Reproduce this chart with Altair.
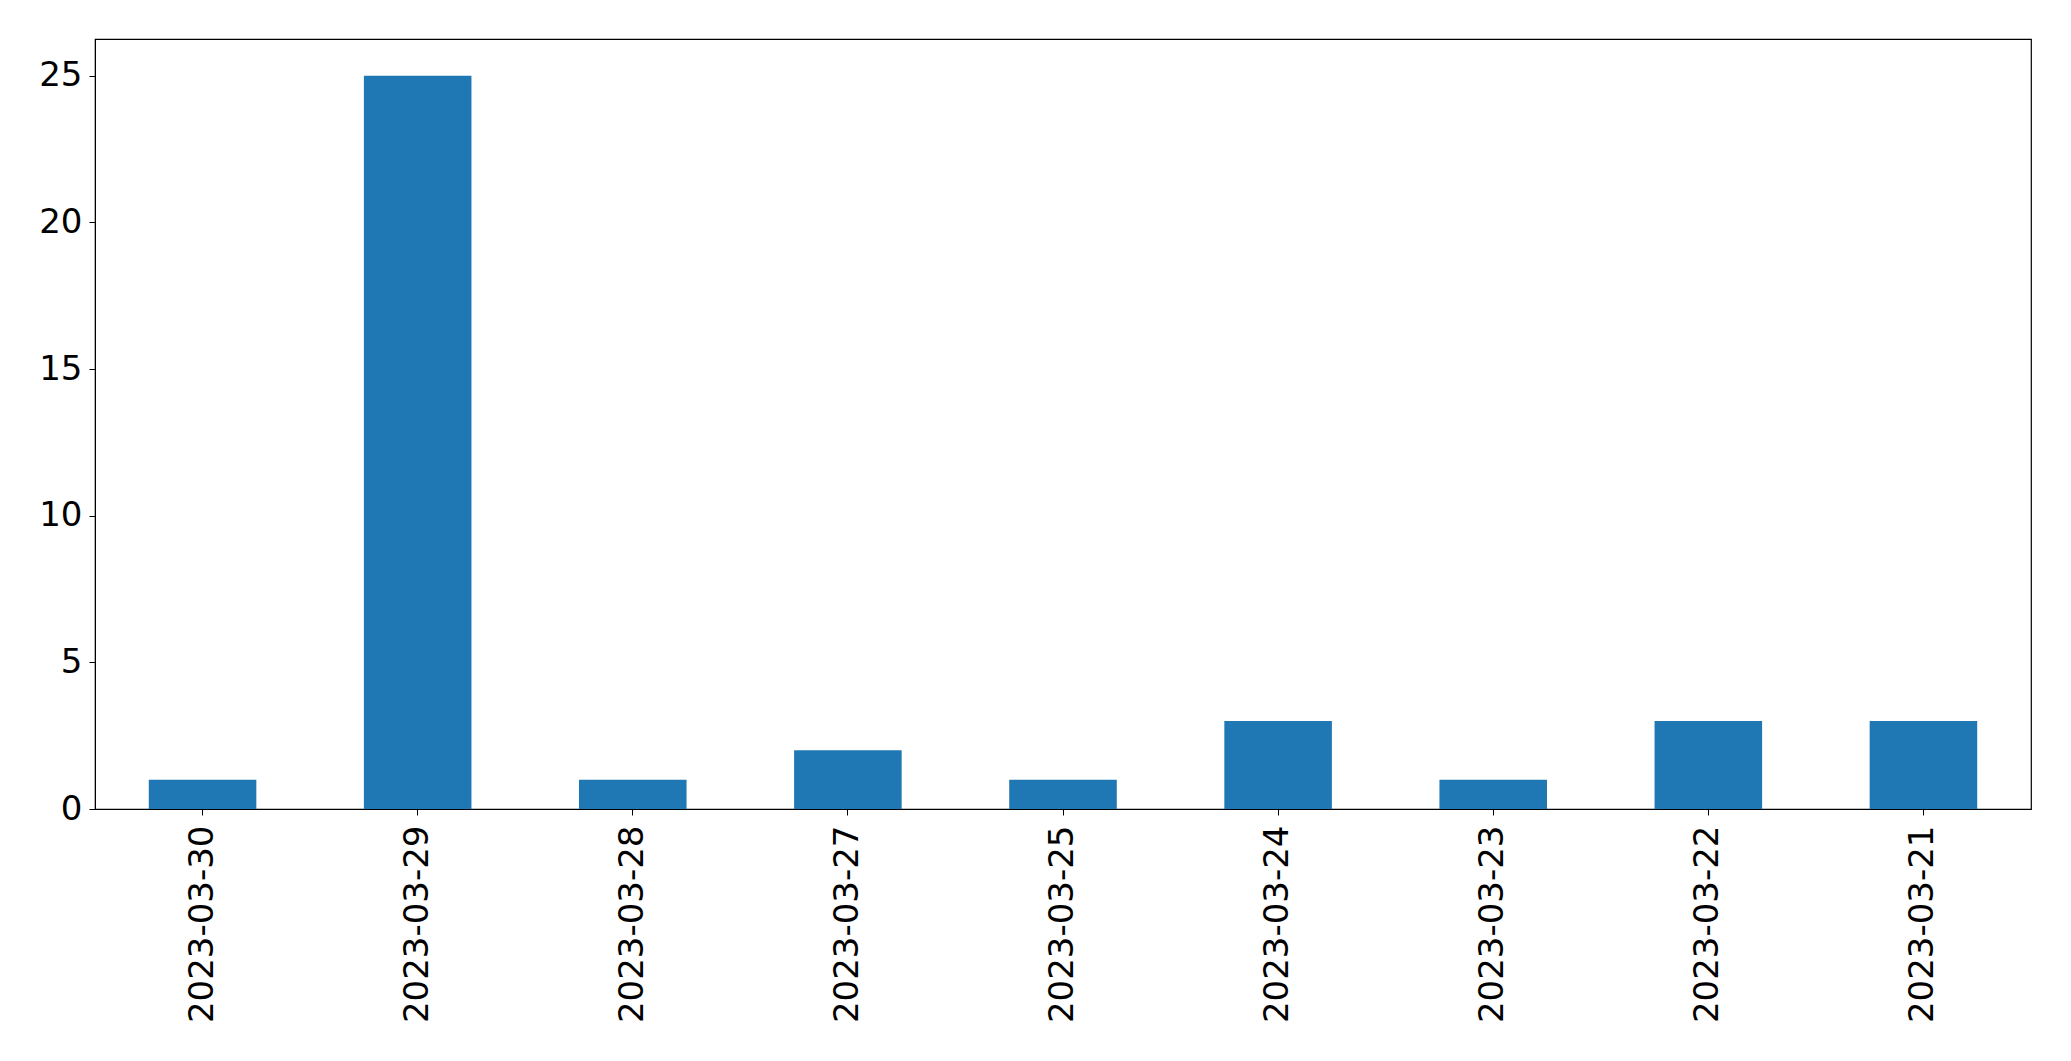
import altair as alt
import pandas as pd

dates = ["2023-03-30", "2023-03-29", "2023-03-28", "2023-03-27", "2023-03-25",
         "2023-03-24", "2023-03-23", "2023-03-22", "2023-03-21"]
counts = [1, 25, 1, 2, 1, 3, 1, 3, 3]

df = pd.DataFrame({"date": dates, "count": counts})

FONT = "DejaVu Sans"

chart = alt.Chart(df).mark_bar(color="#1f77b4").encode(
    x=alt.X("date:N", sort=dates, title=None,
            scale=alt.Scale(paddingInner=0.5, paddingOuter=0.25),
            axis=alt.Axis(labelAngle=-90, labelFontSize=34, labelFont=FONT,
                          labelColor="black", tickColor="black", domainColor="black",
                          tickSize=6, labelPadding=10, labelLimit=400)),
    y=alt.Y("count:Q", title=None,
            scale=alt.Scale(domain=[0, 26.25], nice=False, zero=True),
            axis=alt.Axis(values=[0, 5, 10, 15, 20, 25], grid=False, labelFontSize=34,
                          labelFont=FONT, labelColor="black", tickColor="black",
                          domainColor="black", tickSize=6, labelPadding=7)),
).properties(
    width=1936, height=770,
    autosize=alt.AutoSizeParams(type="none"),
    padding={"left": 87, "top": 31, "right": 30, "bottom": 240},
).configure_view(
    stroke="black", strokeWidth=1.2
).configure_axis(
    grid=False
)

chart.save("out.html", embed_options={"renderer": "svg", "actions": False})
